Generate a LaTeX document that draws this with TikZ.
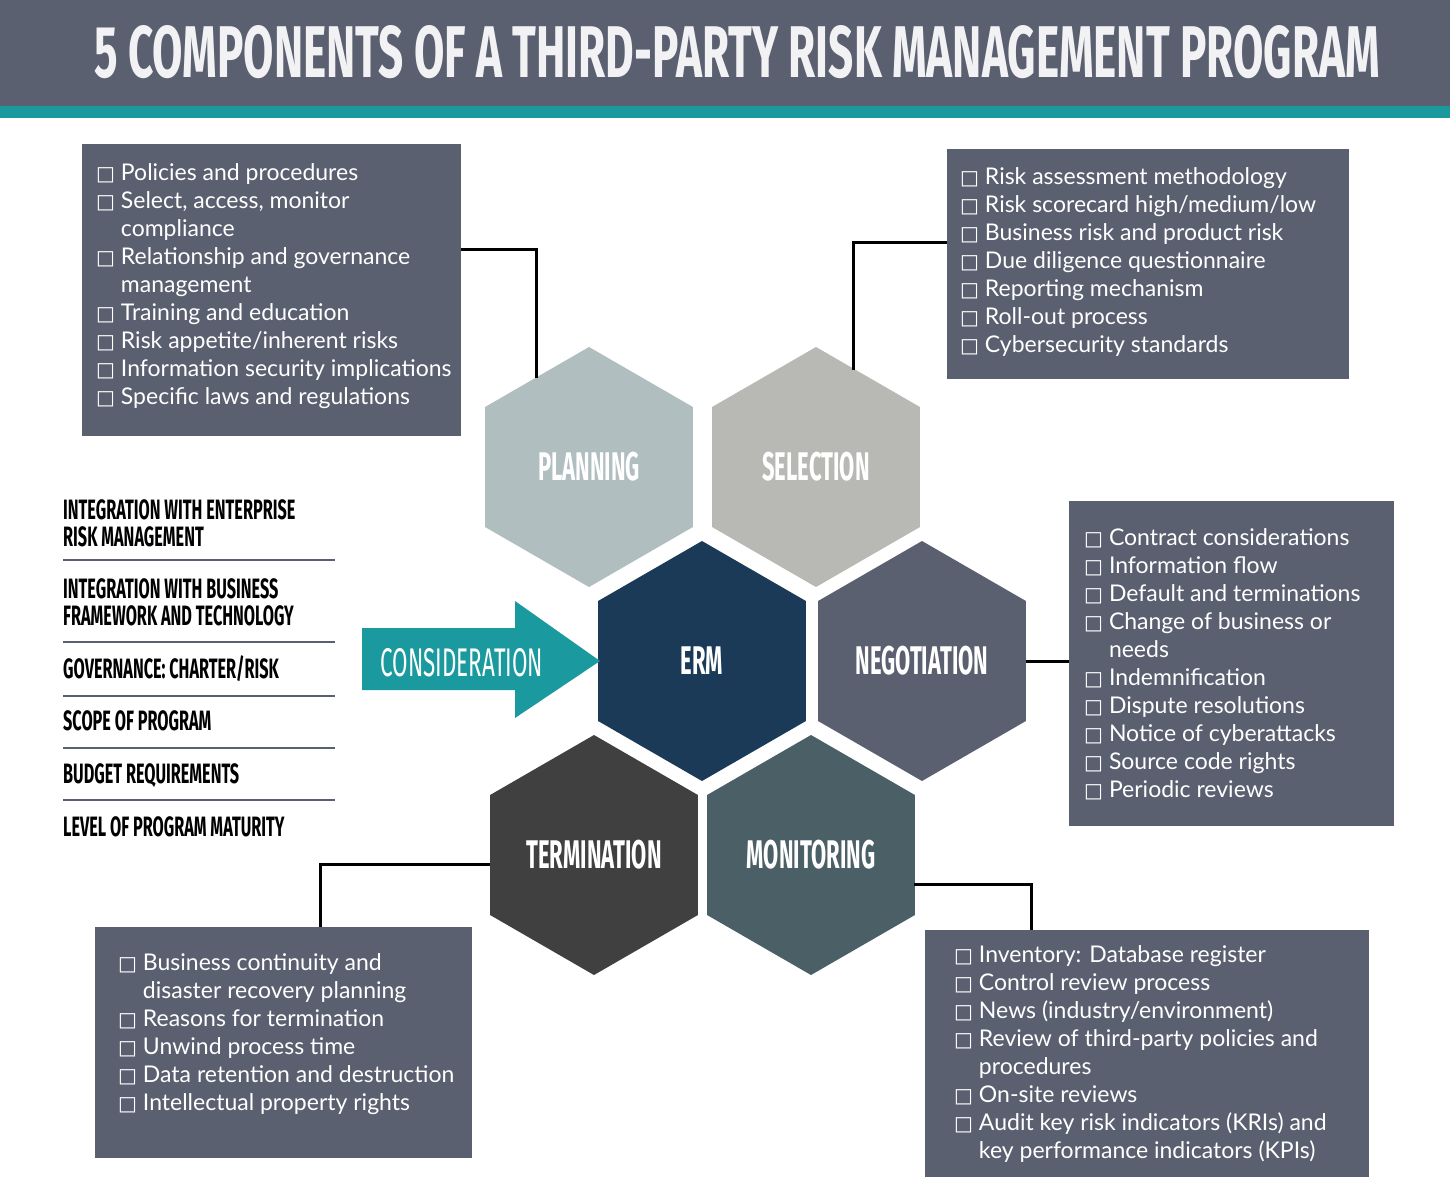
\documentclass[tikz,border=0pt]{standalone}
\usepackage{fontspec}
\setmainfont{Lato}
\newfontfamily\hd{Fira Sans}
\newfontfamily\djv{DejaVu Sans}
\usetikzlibrary{shapes.geometric}
\definecolor{slate}{HTML}{5A6070}
\definecolor{teal}{HTML}{1A9A9E}
\definecolor{plan}{HTML}{B0BEC0}
\definecolor{sel}{HTML}{B8B8B4}
\definecolor{erm}{HTML}{1B3A57}
\definecolor{term}{HTML}{404040}
\definecolor{mon}{HTML}{4A5F66}
\newcommand\bx{{\djv\fontsize{20}{28}\selectfont □}\ }
\newcommand\ind{\phantom{\bx}}
\newcommand\cnd[1]{\scalebox{0.55}[1]{#1}}
\newcommand\lcnd[1]{\scalebox{0.58}[1]{#1}}
\begin{document}
\begin{tikzpicture}[x=1pt,y=-1pt,
 hex/.style={regular polygon,regular polygon sides=6,shape border rotate=30,minimum size=240pt,inner sep=0pt,text=white,font=\hd\bfseries\fontsize{40}{40}\selectfont},
 box/.style={fill=slate,anchor=north west,inner sep=0pt},
 txt/.style={anchor=north west,inner sep=0pt,text=white,align=left,font=\fontsize{23}{28}\selectfont},
 lst/.style={anchor=base west,inner sep=0pt,font=\hd\bfseries\fontsize{28}{28}\selectfont},
 sep/.style={draw=slate,line width=1.2pt},
 con/.style={draw=black,line width=3pt}]
\useasboundingbox (0,0) rectangle (1450,1200);
\fill[white] (0,0) rectangle (1450,1200);
\fill[slate] (0,0) rectangle (1450,106);
\fill[teal] (0,106) rectangle (1450,118);
\node[text=white!92!slate,inner sep=0pt] (title) at (737,52) {\resizebox{1285pt}{52pt}{\hd\bfseries 5 COMPONENTS OF A THIRD-PARTY RISK MANAGEMENT PROGRAM}};
% hexagons
\node[hex,fill=plan] (planning) at (589,467) {\cnd{PLANNING}};
\node[hex,fill=sel] (selection) at (816,467) {\cnd{SELECTION}};
\node[hex,fill=erm] (erm) at (702,661) {\cnd{ERM}};
\node[hex,fill=slate] (neg) at (922,661) {\cnd{NEGOTIATION}};
\node[hex,fill=term] (termn) at (594,855) {\cnd{TERMINATION}};
\node[hex,fill=mon] (monit) at (811,855) {\cnd{MONITORING}};
% consideration arrow
\fill[teal] (362,628) -- (515,628) -- (515,601) -- (600,661) -- (515,718) -- (515,690) -- (362,690) -- cycle;
\node[text=white,inner sep=0pt,font=\hd\fontsize{40}{40}\selectfont] (cons) at (462,663) {\scalebox{0.56}[1]{CONSIDERATION}};
% boxes
\node[box,minimum width=379pt,minimum height=292pt] (tl) at (82,144) {};
\node[txt] (tlt) at (96,163) {\bx Policies and procedures\\\bx Select, access, monitor\\\ind compliance\\\bx Relationship and governance\\\ind management\\\bx Training and education\\\bx Risk appetite/inherent risks\\\bx Information security implications\\\bx Specific laws and regulations};
\node[box,minimum width=402pt,minimum height=230pt] (tr) at (947,149) {};
\node[txt] (trt) at (960,167) {\bx Risk assessment methodology\\\bx Risk scorecard high/medium/low\\\bx Business risk and product risk\\\bx Due diligence questionnaire\\\bx Reporting mechanism\\\bx Roll-out process\\\bx Cybersecurity standards};
\node[box,minimum width=325pt,minimum height=325pt] (rt) at (1069,501) {};
\node[txt] (rtt) at (1084,528) {\bx Contract considerations\\\bx Information flow\\\bx Default and terminations\\\bx Change of business or\\\ind needs\\\bx Indemnification\\\bx Dispute resolutions\\\bx Notice of cyberattacks\\\bx Source code rights\\\bx Periodic reviews};
\node[box,minimum width=377pt,minimum height=231pt] (bl) at (95,927) {};
\node[txt] (blt) at (118,953) {\bx Business continuity and\\\ind disaster recovery planning\\\bx Reasons for termination\\\bx Unwind process time\\\bx Data retention and destruction\\\bx Intellectual property rights};
\node[box,minimum width=444pt,minimum height=247pt] (br) at (925,930) {};
\node[txt] (brt) at (954,945) {\bx Inventory: Database register\\\bx Control review process\\\bx News (industry/environment)\\\bx Review of third-party policies and\\\ind procedures\\\bx On-site reviews\\\bx Audit key risk indicators (KRIs) and\\\ind key performance indicators (KPIs)};
% connectors
\draw[con] (tl.east |- 0,249) -| (536,378);
\draw[con] (tr.west |- 0,242) -| (853,370);
\draw[con] (neg.east) -- (rt.west |- neg.east);
\draw[con] (490,864) -| (bl.north -| 320,0);
\draw[con] (914,884) -| (br.north -| 1031,0);
% left list
\node[lst] (l1) at (63,519) {\lcnd{INTEGRATION WITH ENTERPRISE}};
\node[lst] (l1b) at (63,546) {\lcnd{RISK MANAGEMENT}};
\node[lst] (l2) at (63,598) {\lcnd{INTEGRATION WITH BUSINESS}};
\node[lst] (l2b) at (63,625) {\lcnd{FRAMEWORK AND TECHNOLOGY}};
\node[lst] (l3) at (63,678) {\lcnd{GOVERNANCE: CHARTER/RISK}};
\node[lst] (l4) at (63,730) {\lcnd{SCOPE OF PROGRAM}};
\node[lst] (l5) at (63,783) {\lcnd{BUDGET REQUIREMENTS}};
\node[lst] (l6) at (63,836) {\lcnd{LEVEL OF PROGRAM MATURITY}};
\draw[sep] (63,560) -- (335,560);
\draw[sep] (63,642) -- (335,642);
\draw[sep] (63,696) -- (335,696);
\draw[sep] (63,748) -- (335,748);
\draw[sep] (63,800) -- (335,800);
\end{tikzpicture}
\end{document}
